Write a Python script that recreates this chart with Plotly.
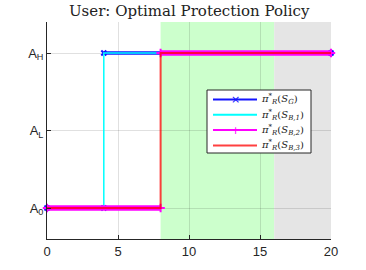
import plotly.graph_objects as go

# data
t_G = [0, 4, None, 4, 20]
a_G = [0, 0, None, 2, 2]
t_B1 = [0, 4, 20]
a_B1 = [0, 2, 2]
t_B2 = [0, 8, None, 8, 20]
a_B2 = [0, 0, None, 2, 2]
t_B3 = [0, 8, 20]
a_B3 = [0, 2, 2]
xtick_vals = [0, 5, 10, 15, 20]
ytick_vals = [0, 1, 2]
ytick_text = ["A<sub>0</sub>", "A<sub>L</sub>", "A<sub>H</sub>"]
green_span = [8, 16]
gray_span = [16, 20]

names = [
    "<i>π</i><sup>*</sup><sub><i>R</i></sub>(<i>S<sub>G</sub></i>)",
    "<i>π</i><sup>*</sup><sub><i>R</i></sub>(<i>S<sub>B,1</sub></i>)",
    "<i>π</i><sup>*</sup><sub><i>R</i></sub>(<i>S<sub>B,2</sub></i>)",
    "<i>π</i><sup>*</sup><sub><i>R</i></sub>(<i>S<sub>B,3</sub></i>)",
]
BLUE = "rgb(20,20,255)"
RED = "rgba(255,0,0,0.75)"
colors = [BLUE, "cyan", "magenta", RED]
legend_marks = ["×", None, "+", None]

# figure geometry (page body margin removed)
W, H = 366, 270
L, R, T, B = 47, 35, 22, 31
PW, PH = W - L - R, H - T - B


def px(xf):
    return (xf - L) / PW


def py(yf):
    return (H - B - yf) / PH


fig = go.Figure()
fig.add_trace(go.Scatter(x=t_G, y=a_G, mode="lines+markers", showlegend=False,
                         line=dict(color=BLUE, width=3.5),
                         marker=dict(symbol="x-thin", size=5, line=dict(color=BLUE, width=2)),
                         cliponaxis=False))
fig.add_trace(go.Scatter(x=t_B1, y=a_B1, mode="lines", showlegend=False,
                         line=dict(color="cyan", width=1.5, shape="hv"), cliponaxis=False))
fig.add_trace(go.Scatter(x=t_B2, y=a_B2, mode="lines+markers", showlegend=False,
                         line=dict(color="magenta", width=5.5),
                         marker=dict(symbol="cross-thin", size=6, line=dict(color="magenta", width=2)),
                         cliponaxis=False))
fig.add_trace(go.Scatter(x=t_B3, y=a_B3, mode="lines", showlegend=False,
                         line=dict(color=RED, width=2, shape="hv"), cliponaxis=False))

fig.add_shape(type="rect", xref="x", yref="paper", x0=green_span[0], x1=green_span[1], y0=0, y1=1,
              fillcolor="rgb(204,255,204)", line=dict(width=0), layer="below")
fig.add_shape(type="rect", xref="x", yref="paper", x0=gray_span[0], x1=gray_span[1], y0=0, y1=1,
              fillcolor="rgb(229,229,229)", line=dict(width=0), layer="below")

# manual legend (page pixel coords)
fig.add_shape(type="rect", xref="paper", yref="paper", x0=px(207), x1=px(311), y0=py(153), y1=py(90),
              fillcolor="white", line=dict(color="#262626", width=1), layer="above")
rows = [99.5, 114.8, 130.1, 145.4]
for i, yr in enumerate(rows):
    fig.add_shape(type="line", xref="paper", yref="paper", x0=px(213), x1=px(257), y0=py(yr), y1=py(yr),
                  line=dict(color=colors[i], width=2), layer="above")
    if legend_marks[i]:
        fig.add_annotation(xref="paper", yref="paper", x=px(235), y=py(yr), text=legend_marks[i],
                           showarrow=False, xanchor="center", yanchor="middle",
                           font=dict(family="DejaVu Sans", size=11, color=colors[i]))
    fig.add_annotation(xref="paper", yref="paper", x=px(259), y=py(yr), text=names[i],
                       showarrow=False, xanchor="left", yanchor="middle",
                       font=dict(family="DejaVu Serif, serif", size=10, color="#222"))

fig.update_layout(
    width=W, height=H,
    margin=dict(l=L, r=R, t=T, b=B, autoexpand=False),
    paper_bgcolor="white", plot_bgcolor="white",
    title=dict(text="User: Optimal Protection Policy", x=0.517, xanchor="center",
               y=1 - 11 / H, yanchor="middle",
               font=dict(family="DejaVu Serif, serif", size=15, color="#222")),
    font=dict(family="Liberation Sans, Arial, sans-serif", size=12, color="#262626"),
    showlegend=False,
)
fig.update_xaxes(range=[0, 20], tickvals=xtick_vals, showgrid=True, automargin=False,
                 gridcolor="rgba(0,0,0,0.12)", gridwidth=1, zeroline=False,
                 showline=True, linecolor="#262626", linewidth=1,
                 ticks="inside", ticklen=4, tickcolor="#262626",
                 tickfont=dict(size=13))
fig.update_yaxes(range=[-0.4, 2.4], tickvals=ytick_vals, ticktext=ytick_text, showgrid=True, automargin=False,
                 gridcolor="rgba(0,0,0,0.12)", gridwidth=1, zeroline=False,
                 showline=True, linecolor="#262626", linewidth=1,
                 ticks="inside", ticklen=4, tickcolor="#262626",
                 tickfont=dict(size=13))

fig.write_html("out.html", config={"displayModeBar": False},
               post_script="document.body.style.margin='0';")
